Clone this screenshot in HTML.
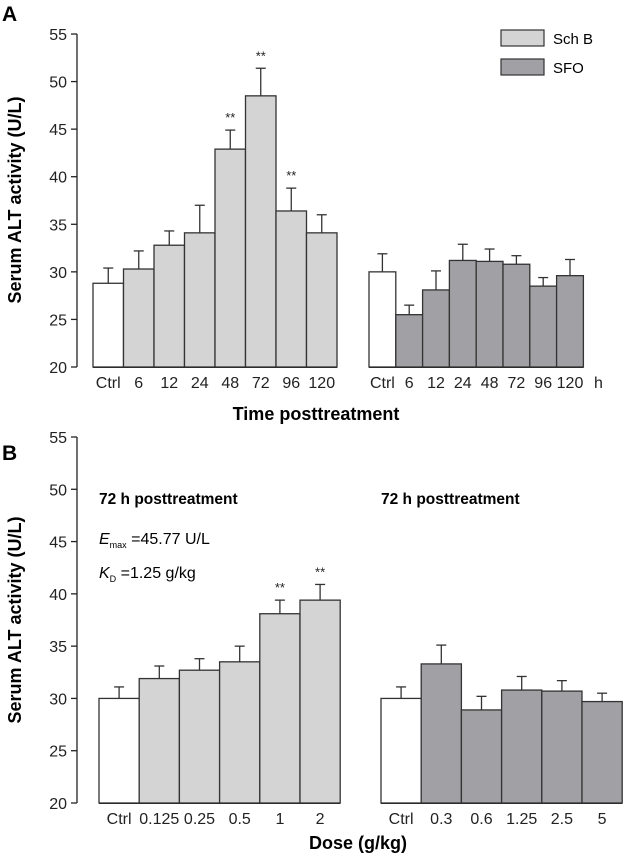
<!DOCTYPE html>
<html><head><meta charset="utf-8"><style>
body{margin:0;background:#fff}
svg{display:block;font-family:"Liberation Sans",sans-serif}
</style></head><body>
<svg id="c" width="631" height="854"></svg>
<script>
const catA=["Ctrl","6","12","24","48","72","96","120"];
const schA=[28.8,30.3,32.8,34.1,42.9,48.5,36.4,34.1];
const schAErr=[1.6,1.9,1.5,2.9,2.0,2.9,2.4,1.9];
const schASig=[0,0,0,0,1,1,1,0];
const sfoA=[30.0,25.5,28.1,31.2,31.1,30.8,28.5,29.6];
const sfoAErr=[1.9,1.0,2.0,1.7,1.3,0.9,0.9,1.7];
const catBL=["Ctrl","0.125","0.25","0.5","1","2"];
const schB=[30.0,31.9,32.7,33.5,38.1,39.4];
const schBErr=[1.1,1.2,1.1,1.5,1.3,1.5];
const schBSig=[0,0,0,0,1,1];
const catBR=["Ctrl","0.3","0.6","1.25","2.5","5"];
const sfoB=[30.0,33.3,28.9,30.8,30.7,29.7];
const sfoBErr=[1.1,1.8,1.3,1.3,1.0,0.8];
const yTicks=[20,25,30,35,40,45,50,55];

const NS="http://www.w3.org/2000/svg",svg=document.getElementById('c');
function el(t,a,txt){const e=document.createElementNS(NS,t);for(const k in a)e.setAttribute(k,a[k]);if(txt!=null)e.textContent=txt;svg.appendChild(e);return e;}
function panel(top,bot,tag){
  const y=v=>bot-(v-20)*(bot-top)/35;
  const ax=el('line',{x1:77,y1:top,x2:77,y2:bot,stroke:'#222','stroke-width':1.3});
  
  yTicks.forEach(t=>{
    el('line',{x1:71,y1:y(t),x2:77,y2:y(t),stroke:'#222','stroke-width':1.3});
    const l=el('text',{x:67,y:y(t)+6,'font-size':16,'text-anchor':'end',fill:'#222'},t);
    
  });
  return y;
}
function group(y,bot,x0,w,cats,vals,errs,sig,fill,tag,lblY){
  el('line',{x1:x0,y1:bot,x2:x0+w*cats.length,y2:bot,stroke:'#222','stroke-width':2});
  cats.forEach((c,i)=>{
    const x=x0+i*w, yt=y(vals[i]), ye=y(vals[i]+errs[i]), cx=x+w/2;
    el('line',{x1:cx,y1:yt,x2:cx,y2:ye,stroke:'#333','stroke-width':1.3});
    el('line',{x1:cx-5,y1:ye,x2:cx+5,y2:ye,stroke:'#333','stroke-width':1.3});
    const r=el('rect',{x:x,y:yt,width:w,height:bot-yt,fill:i==0?'#fff':fill,stroke:'#333','stroke-width':1.3});
    
    if(sig&&sig[i]){const s=el('text',{x:cx,y:ye-8,'font-size':13,'text-anchor':'middle',fill:'#222'},'**');
      }
    const t=el('text',{x:cx,y:lblY,'font-size':16,'text-anchor':'middle',fill:'#222'},c);
    
  });
}
let yA=panel(34,367,'a');
group(yA,367,93,30.5,catA,schA,schAErr,schASig,'#d4d4d4','a-schb',388);
group(yA,367,369,26.8,catA,sfoA,sfoAErr,null,'#a1a1a5','a-sfo',388);
el('text',{x:594,y:388,'font-size':16,fill:'#222'},'h');
let yB=panel(437,803,'b');
group(yB,803,99,40.2,catBL,schB,schBErr,schBSig,'#d4d4d4','b-schb',824);
group(yB,803,381,40.2,catBR,sfoB,sfoBErr,null,'#a1a1a5','b-sfo',824);
let t;
t=el('text',{x:2,y:21,'font-size':21,'font-weight':'bold'},'A');
t=el('text',{x:2,y:460,'font-size':21,'font-weight':'bold'},'B');
t=el('text',{x:0,y:0,'font-size':18,'font-weight':'bold','text-anchor':'middle',transform:'translate(21,200) rotate(-90)'},'Serum ALT activity (U/L)');
t=el('text',{x:0,y:0,'font-size':18,'font-weight':'bold','text-anchor':'middle',transform:'translate(21,620) rotate(-90)'},'Serum ALT activity (U/L)');
t=el('text',{x:316,y:420,'font-size':18,'font-weight':'bold','text-anchor':'middle'},'Time posttreatment');
t=el('text',{x:358,y:849,'font-size':18,'font-weight':'bold','text-anchor':'middle'},'Dose (g/kg)');
t=el('text',{x:99,y:504,'font-size':15.5,'font-weight':'bold'},'72 h posttreatment');
t=el('text',{x:381,y:504,'font-size':15.5,'font-weight':'bold'},'72 h posttreatment');
t=el('text',{x:99,y:544,'font-size':16});t.innerHTML='<tspan font-style="italic">E</tspan><tspan font-size="9" dy="4">max</tspan><tspan dy="-4"> =45.77 U/L</tspan>';
t=el('text',{x:99,y:578,'font-size':16});t.innerHTML='<tspan font-style="italic">K</tspan><tspan font-size="9" dy="4">D</tspan><tspan dy="-4"> =1.25 g/kg</tspan>';
let r=el('rect',{x:501,y:30,width:43,height:16,fill:'#d4d4d4',stroke:'#333','stroke-width':1.2});
t=el('text',{x:553,y:44,'font-size':15},'Sch B');
r=el('rect',{x:501,y:59,width:43,height:16,fill:'#a1a1a5',stroke:'#333','stroke-width':1.2});
t=el('text',{x:553,y:73,'font-size':15},'SFO');
</script>
</body></html>
